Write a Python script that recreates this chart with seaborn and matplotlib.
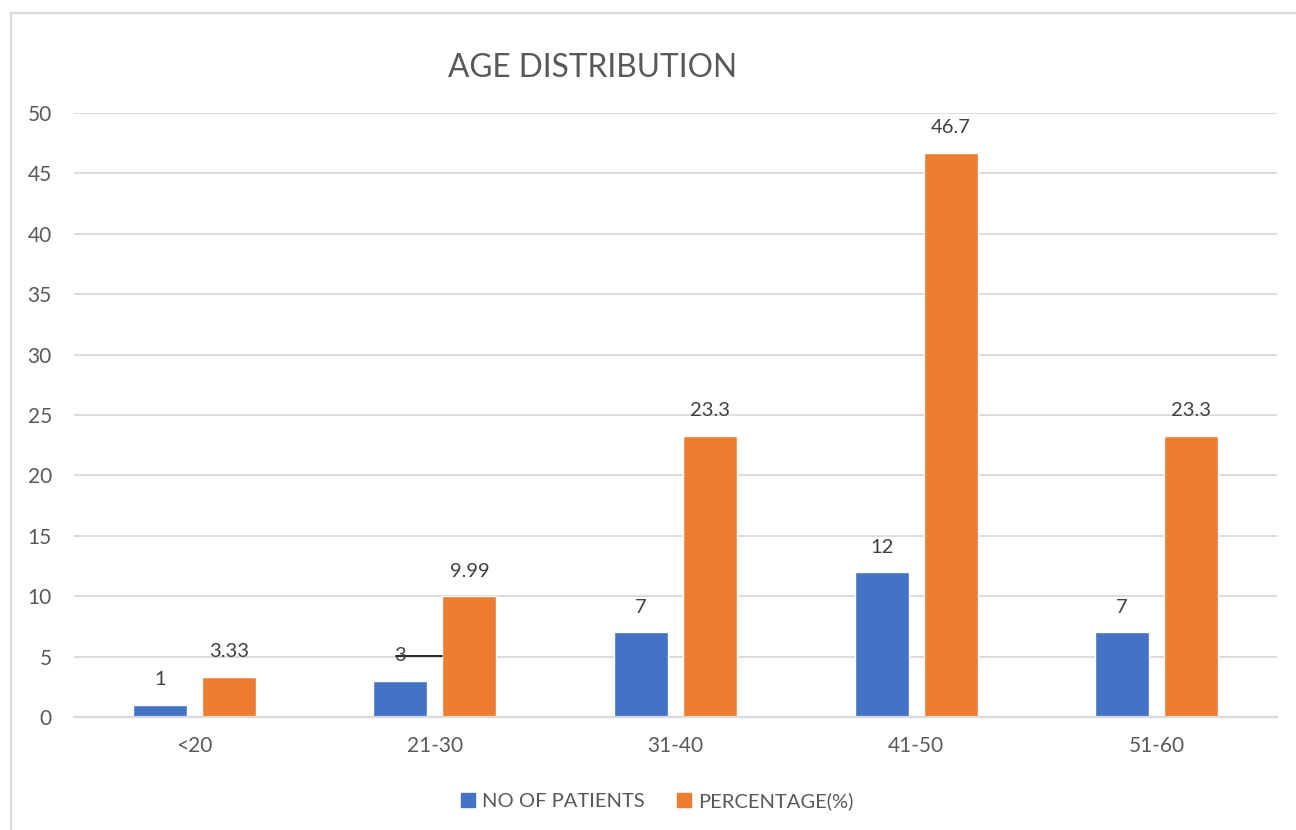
import matplotlib
matplotlib.use("Agg")
import matplotlib.pyplot as plt
import matplotlib.transforms as mtransforms
from matplotlib.patches import Rectangle
import seaborn as sns
import pandas as pd

# Data
age_groups = ["<20", "21-30", "31-40", "41-50", "51-60"]
patients = [1, 3, 7, 12, 7]
percentage = [3.33, 9.99, 23.3, 46.7, 23.3]
patient_labels = ["1", "3", "7", "12", "7"]
percentage_labels = ["3.33", "9.99", "23.3", "46.7", "23.3"]
series_names = ["NO OF PATIENTS", "PERCENTAGE(%)"]
y_ticks = [0, 5, 10, 15, 20, 25, 30, 35, 40, 45, 50]

BLUE = "#4472C4"
ORANGE = "#ED7D31"
TEXT = "#595959"
GRID = "#D9D9D9"

sns.set_theme(style="white")
plt.rcParams["font.family"] = ["Lato", "DejaVu Sans"]

df = pd.DataFrame({
    "age": age_groups * 2,
    "value": patients + percentage,
    "series": [series_names[0]] * len(age_groups) + [series_names[1]] * len(age_groups),
})

fig = plt.figure(figsize=(12.96, 8.30), dpi=100)
ax = fig.add_axes([74 / 1296, 1 - 717 / 830, (1277 - 74) / 1296, (717 - 113) / 830])

sns.barplot(data=df, x="age", y="value", hue="series", order=age_groups,
            hue_order=series_names, palette=[BLUE, ORANGE],
            width=0.574, gap=0.22, saturation=1, errorbar=None, ax=ax, legend=False)

ax.set_xlim(-0.5, len(age_groups) - 0.5)
ax.set_ylim(0, 50)
ax.set_yticks(y_ticks)
ax.set_xlabel("")
ax.set_ylabel("")
ax.yaxis.grid(True, color=GRID, linewidth=1.3)
ax.set_axisbelow(True)
for side in ["top", "right", "left"]:
    ax.spines[side].set_visible(False)
ax.spines["bottom"].set_color(GRID)
ax.spines["bottom"].set_linewidth(1.6)
ax.tick_params(axis="y", length=0, pad=16, labelsize=15, labelcolor=TEXT)
ax.tick_params(axis="x", length=0, pad=14, labelsize=15, labelcolor=TEXT)

# Value labels above bars
n = len(age_groups)
blue_bars = ax.patches[:n]
orange_bars = ax.patches[n:2 * n]
for bars, labels in [(blue_bars, patient_labels), (orange_bars, percentage_labels)]:
    for bar, lab in zip(bars, labels):
        ax.annotate(lab, (bar.get_x() + bar.get_width() / 2, bar.get_height()),
                    xytext=(0, 18), textcoords="offset points",
                    ha="center", va="center", fontsize=14.5, color="#404040")

# Leader line from the "3" label to the neighbouring bar
b, o = blue_bars[1], orange_bars[1]
offset = mtransforms.offset_copy(ax.transData, fig=fig, x=0, y=18, units="points")
ax.plot([b.get_x() + b.get_width() / 2 - 0.02, o.get_x()],
        [b.get_height(), b.get_height()], color="#262626", lw=1.4,
        transform=offset, clip_on=False)

# Title
fig.text(593 / 1296, 1 - 68 / 830, "AGE DISTRIBUTION", ha="center", va="center",
         fontsize=22.8, color=TEXT)

# Legend
handles = [Rectangle((0, 0), 1, 1, color=BLUE), Rectangle((0, 0), 1, 1, color=ORANGE)]
fig.legend(handles, series_names, loc="center", bbox_to_anchor=(657 / 1296, 1 - 801 / 830),
           ncol=2, frameon=False, fontsize=14.5, labelcolor=TEXT,
           handlelength=0.7, handleheight=0.7, handletextpad=0.35, columnspacing=1.6)

# Chart area border
fig.patches.append(Rectangle((11 / 1296, -0.1), 1.2, 1.1 - 13.5 / 830, transform=fig.transFigure,
                             fill=False, edgecolor=GRID, linewidth=1.6))

fig.savefig("out.png", dpi=100, facecolor="white")
